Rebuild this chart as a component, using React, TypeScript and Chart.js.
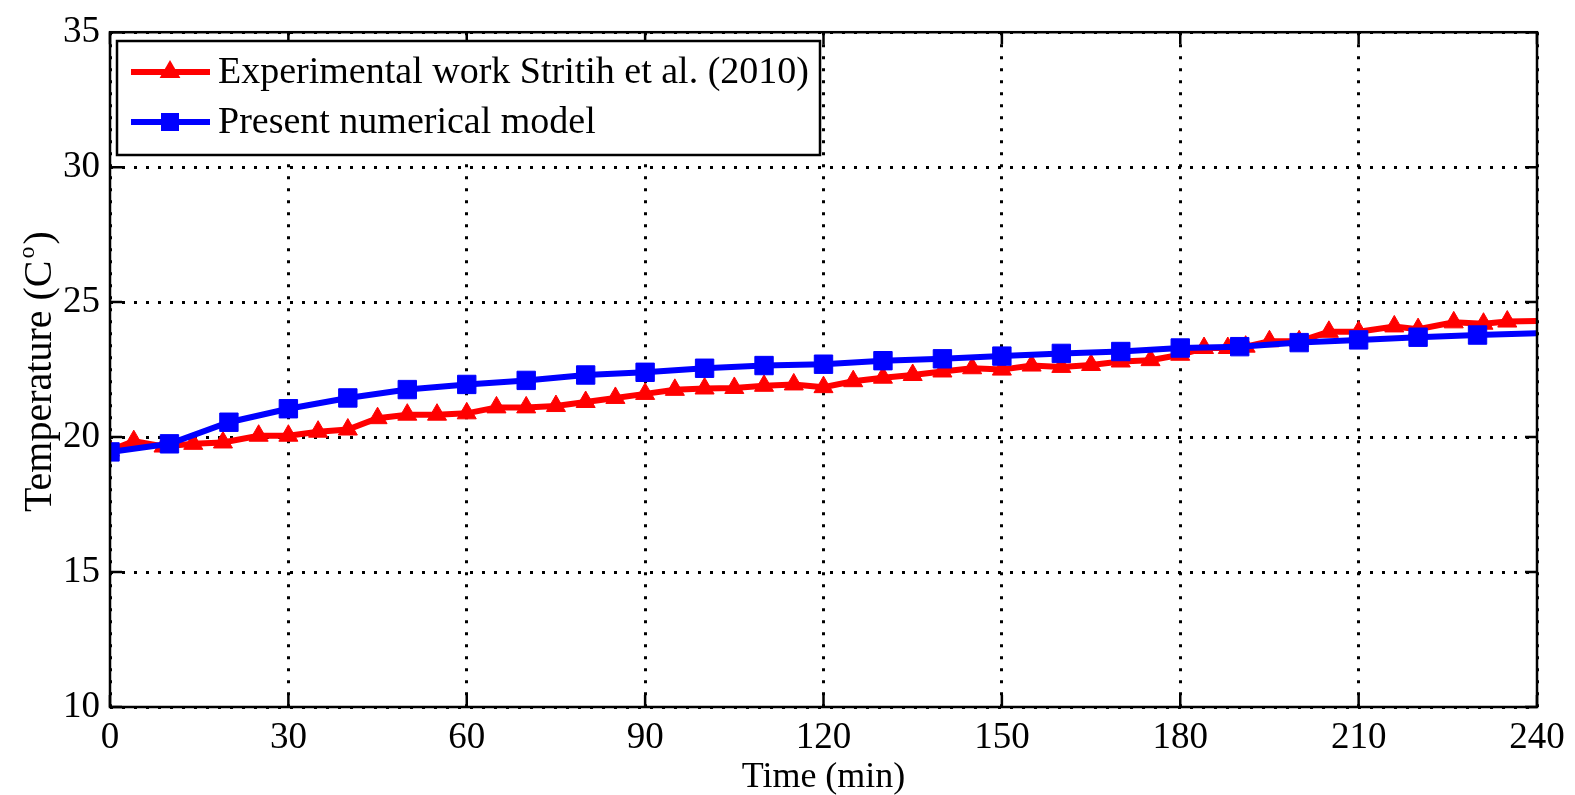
import React, { useEffect, useRef } from "react";
import { Chart, registerables } from "chart.js";

Chart.register(...registerables);

const redTimes = [0, 4, 9, 14, 19, 25, 30, 35, 40, 45, 50, 55, 60, 65, 70, 75, 80, 85, 90, 95, 100, 105, 110, 115, 120, 125, 130, 135, 140, 145, 150, 155, 160, 165, 170, 175, 180, 184, 188, 191, 195, 200, 205, 210, 216, 220, 226, 231, 235, 240];
const redTemps = [19.5, 19.85, 19.65, 19.75, 19.8, 20.05, 20.05, 20.2, 20.28, 20.7, 20.83, 20.83, 20.88, 21.1, 21.1, 21.15, 21.3, 21.45, 21.6, 21.75, 21.8, 21.82, 21.9, 21.95, 21.85, 22.07, 22.2, 22.3, 22.43, 22.55, 22.5, 22.65, 22.6, 22.67, 22.8, 22.85, 23.05, 23.3, 23.3, 23.35, 23.55, 23.55, 23.9, 23.9, 24.1, 24.0, 24.25, 24.2, 24.28, 24.3];

const blueTimes = [0, 10, 20, 30, 40, 50, 60, 70, 80, 90, 100, 110, 120, 130, 140, 150, 160, 170, 180, 190, 200, 210, 220, 230, 240];
const blueTemps = [19.45, 19.75, 20.55, 21.05, 21.45, 21.76, 21.95, 22.1, 22.3, 22.4, 22.55, 22.65, 22.7, 22.83, 22.9, 23.0, 23.1, 23.17, 23.3, 23.35, 23.5, 23.6, 23.7, 23.78, 23.85];

const seriesLabels = ["Experimental work Stritih et al. (2010)", "Present numerical model"];
const xTitle = "Time (min)";
const yTitleMain = "Temperature (C";
const yTitleSup = "o";
const yTitleEnd = ")";

const FONT = "'Liberation Serif', 'Times New Roman', serif";

const framePlugin = {
  id: "frame",
  afterDatasetsDraw(chart: any) {
    const { ctx, chartArea, scales } = chart;
    const { left, right, top, bottom } = chartArea;
    const x = scales.x;
    const y = scales.y;
    ctx.save();
    ctx.strokeStyle = "#000";
    ctx.lineWidth = 2.5;
    ctx.strokeRect(left, top, right - left, bottom - top);
    const tl = 12;
    ctx.beginPath();
    x.ticks.forEach((t: any) => {
      const px = x.getPixelForValue(t.value);
      ctx.moveTo(px, bottom);
      ctx.lineTo(px, bottom - tl);
      ctx.moveTo(px, top);
      ctx.lineTo(px, top + tl);
    });
    y.ticks.forEach((t: any) => {
      const py = y.getPixelForValue(t.value);
      ctx.moveTo(left, py);
      ctx.lineTo(left + tl, py);
      ctx.moveTo(right, py);
      ctx.lineTo(right - tl, py);
    });
    ctx.stroke();
    ctx.restore();
  },
};

const legendPlugin = {
  id: "customLegend",
  afterDraw(chart: any) {
    const { ctx } = chart;
    const bx = 117, by = 41, bw = 703, bh = 114;
    ctx.save();
    ctx.fillStyle = "#fff";
    ctx.fillRect(bx, by, bw, bh);
    ctx.strokeStyle = "#000";
    ctx.lineWidth = 2.5;
    ctx.strokeRect(bx, by, bw, bh);
    const rows = [72, 122];
    chart.data.datasets.forEach((ds: any, i: number) => {
      const ly = rows[i];
      ctx.strokeStyle = ds.borderColor;
      ctx.lineWidth = ds.borderWidth;
      ctx.beginPath();
      ctx.moveTo(131, ly);
      ctx.lineTo(210, ly);
      ctx.stroke();
      ctx.fillStyle = ds.borderColor;
      const cx = 170;
      if (ds.pointStyle === "triangle") {
        const r = 12;
        ctx.beginPath();
        ctx.moveTo(cx, ly - r);
        ctx.lineTo(cx + r * 0.866, ly + r * 0.5);
        ctx.lineTo(cx - r * 0.866, ly + r * 0.5);
        ctx.closePath();
        ctx.fill();
      } else {
        ctx.fillRect(cx - 9, ly - 9, 18, 18);
      }
      ctx.fillStyle = "#000";
      ctx.font = `38px ${FONT}`;
      ctx.textBaseline = "middle";
      ctx.textAlign = "left";
      ctx.fillText(ds.label, 218, ly + 1);
    });
    ctx.restore();
  },
};

const yTitlePlugin = {
  id: "yTitle",
  afterDraw(chart: any) {
    const { ctx, chartArea } = chart;
    const cy = (chartArea.top + chartArea.bottom) / 2 + 2;
    ctx.save();
    ctx.translate(40, cy);
    ctx.rotate(-Math.PI / 2);
    ctx.fillStyle = "#000";
    ctx.textBaseline = "middle";
    ctx.textAlign = "left";
    ctx.font = `40px ${FONT}`;
    const w1 = ctx.measureText(yTitleMain).width;
    ctx.font = `24px ${FONT}`;
    const w2 = ctx.measureText(yTitleSup).width;
    ctx.font = `40px ${FONT}`;
    const w3 = ctx.measureText(yTitleEnd).width;
    const total = w1 + w2 + 4 + w3;
    let sx = -total / 2;
    ctx.fillText(yTitleMain, sx, 0);
    sx += w1 + 2;
    ctx.font = `24px ${FONT}`;
    ctx.fillText(yTitleSup, sx, -12);
    sx += w2 + 2;
    ctx.font = `40px ${FONT}`;
    ctx.fillText(yTitleEnd, sx, 0);
    ctx.restore();
  },
};

export default function App() {
  const ref = useRef<HTMLCanvasElement | null>(null);

  useEffect(() => {
    if (!ref.current) return;
    Chart.defaults.color = "#000";
    const chart = new Chart(ref.current, {
      type: "line",
      data: {
        datasets: [
          {
            label: seriesLabels[0],
            data: redTimes.map((t, i) => ({ x: t, y: redTemps[i] })),
            borderColor: "#ff0000",
            backgroundColor: "#ff0000",
            borderWidth: 6,
            pointStyle: "triangle",
            pointRadius: (c: any) => (c.dataIndex === redTimes.length - 1 ? 0 : 11),
            pointBorderWidth: 1,
            pointBackgroundColor: "#ff0000",
            pointBorderColor: "#ff0000",
            tension: 0,
            order: 2,
          },
          {
            label: seriesLabels[1],
            data: blueTimes.map((t, i) => ({ x: t, y: blueTemps[i] })),
            borderColor: "#0000ff",
            backgroundColor: "#0000ff",
            borderWidth: 6,
            pointStyle: "rect",
            pointRadius: (c: any) => (c.dataIndex === blueTimes.length - 1 ? 0 : 13),
            pointBorderWidth: 1,
            pointBackgroundColor: "#0000ff",
            pointBorderColor: "#0000ff",
            tension: 0,
            order: 1,
          },
        ] as any,
      },
      options: {
        animation: false,
        responsive: true,
        maintainAspectRatio: false,
        layout: { padding: { top: 26, right: 38, left: 0, bottom: 0 } },
        plugins: {
          legend: { display: false },
          tooltip: { enabled: false },
        },
        scales: {
          x: {
            type: "linear",
            min: 0,
            max: 240,
            ticks: {
              stepSize: 30,
              font: { family: FONT, size: 37 },
              color: "#000",
              padding: 9,
              maxRotation: 0,
            },
            grid: { color: "#000", lineWidth: 3, drawTicks: false },
            border: { display: false, dash: [3, 9] },
            title: {
              display: true,
              text: xTitle,
              font: { family: FONT, size: 36 },
              color: "#000",
              padding: { top: 0, bottom: -4 },
            },
            afterFit: (s: any) => {
              s.height = 88;
            },
          },
          y: {
            type: "linear",
            min: 10,
            max: 35,
            ticks: {
              stepSize: 5,
              font: { family: FONT, size: 37 },
              color: "#000",
              padding: 10,
            },
            grid: { color: "#000", lineWidth: 3, drawTicks: false },
            border: { display: false, dash: [3, 9] },
            afterFit: (s: any) => {
              s.width = 110;
            },
          },
        },
      } as any,
      plugins: [framePlugin, legendPlugin, yTitlePlugin],
    });
    return () => chart.destroy();
  }, []);

  return (
    <div style={{ position: "fixed", left: 0, top: 0, width: 1575, height: 795, background: "#fff" }}>
      <canvas ref={ref} />
    </div>
  );
}
